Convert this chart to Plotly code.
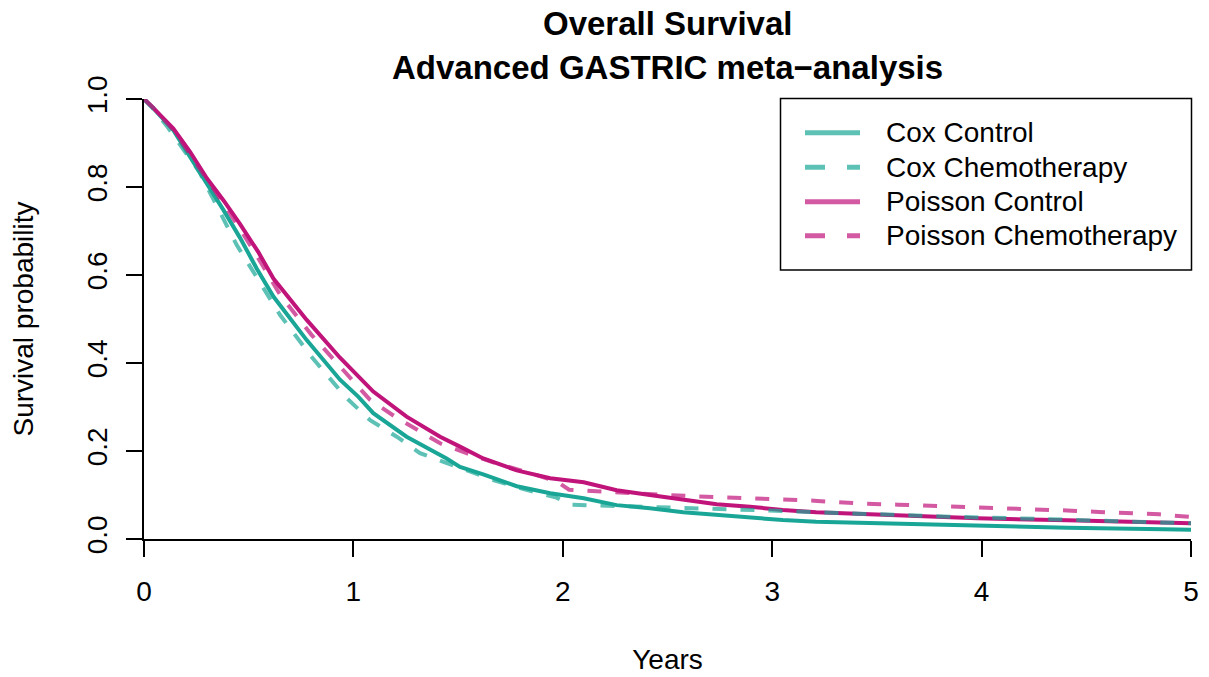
import plotly.graph_objects as go

# ---- data ----
cox_ctrl_t = [0, 0.044, 0.14, 0.22, 0.30, 0.379, 0.458, 0.538, 0.618, 0.777, 0.936, 1.024, 1.095,
              1.254, 1.445, 1.509, 1.62, 1.78, 1.94, 2.10, 2.257, 2.416, 2.575, 2.735, 2.894,
              3.05, 3.21, 3.37, 3.83, 3.97, 4.41, 4.87, 5.0]
cox_ctrl_s = [1.0, 0.979, 0.929, 0.869, 0.805, 0.748, 0.685, 0.615, 0.551, 0.452, 0.362, 0.323, 0.286,
              0.2325, 0.183, 0.164, 0.147, 0.12, 0.104, 0.0925, 0.077, 0.070, 0.0607, 0.0545, 0.049,
              0.043, 0.039, 0.037, 0.032, 0.0295, 0.0258, 0.022, 0.021]

cox_chemo_t = [0, 0.044, 0.107, 0.265, 0.443, 0.506, 0.65, 0.80, 0.968, 1.08, 1.207, 1.318, 1.54,
               1.668, 1.80, 1.97, 2.04, 2.23, 2.5, 2.64, 2.78, 2.93, 3.07, 3.2, 3.45, 3.85, 4.28,
               4.72, 5.0]
cox_chemo_s = [1.0, 0.978, 0.94, 0.834, 0.668, 0.619, 0.509, 0.414, 0.32, 0.27, 0.2325, 0.195, 0.155,
               0.134, 0.115, 0.094, 0.078, 0.0757, 0.071, 0.0698, 0.069, 0.066, 0.0636, 0.061, 0.0568,
               0.0507, 0.0455, 0.0386, 0.0356]

poi_ctrl_t = [0, 0.044, 0.14, 0.22, 0.30, 0.379, 0.458, 0.546, 0.618, 0.777, 0.936, 1.024, 1.095,
              1.254, 1.414, 1.509, 1.62, 1.78, 1.94, 2.10, 2.257, 2.416, 2.575, 2.735, 2.894, 3.05,
              3.21, 3.37, 3.61, 3.98, 4.41, 4.72, 5.0]
poi_ctrl_s = [1.0, 0.98, 0.933, 0.88, 0.82, 0.77, 0.716, 0.652, 0.592, 0.498, 0.412, 0.369, 0.335,
              0.278, 0.2325, 0.21, 0.183, 0.156, 0.138, 0.129, 0.111, 0.10, 0.0886, 0.0792, 0.0734, 0.066,
              0.0607, 0.058, 0.0545, 0.047, 0.0424, 0.0394, 0.036]

poi_chemo_t = [0, 0.044, 0.14, 0.32, 0.395, 0.522, 0.65, 0.80, 0.968, 1.08, 1.199, 1.318, 1.414, 1.54,
               1.668, 1.80, 1.97, 2.03, 2.23, 2.5, 2.64, 2.78, 2.93, 3.07, 3.2, 3.34, 3.44, 3.6, 3.75,
               4.0, 4.15, 4.29, 4.43, 4.56, 4.7, 4.85, 5.0]
poi_chemo_s = [1.0, 0.98, 0.93, 0.807, 0.752, 0.657, 0.555, 0.464, 0.377, 0.316, 0.278, 0.244, 0.2175, 0.195,
               0.174, 0.156, 0.131, 0.112, 0.106, 0.10, 0.097, 0.095, 0.0925, 0.09, 0.087, 0.083, 0.080, 0.078, 0.0757,
               0.0727, 0.0698, 0.0667, 0.0644, 0.0614, 0.059, 0.056, 0.050]

x_ticks = [0, 1, 2, 3, 4, 5]
y_ticks = [0.0, 0.2, 0.4, 0.6, 0.8, 1.0]
y_tick_text = ["0.0", "0.2", "0.4", "0.6", "0.8", "1.0"]

labels = ["Cox Control", "Cox Chemotherapy", "Poisson Control", "Poisson Chemotherapy"]
title_lines = ["Overall Survival", "Advanced GASTRIC meta\u2212analysis"]

TEAL = "rgb(26,166,150)"
TEAL_A = "rgba(26,166,150,0.7)"
MAG = "rgb(192,20,122)"
MAG_A = "rgba(192,20,122,0.7)"
DASH = "14px,14px"
FONT = "Liberation Sans, Arial, Helvetica, sans-serif"
FS = 28

W, H = 1209, 677
ML, MR, MT, MB = 144, 18, 99, 138
PW, PH = W - ML - MR, H - MT - MB


def px2x(px):
    return (px - ML) / PW


def px2y(py):
    return (H - MB - py) / PH


fig = go.Figure()
fig.add_trace(go.Scatter(x=cox_ctrl_t, y=cox_ctrl_s, mode="lines", name=labels[0], showlegend=False,
                         line=dict(color=TEAL, width=4)))
fig.add_trace(go.Scatter(x=poi_ctrl_t, y=poi_ctrl_s, mode="lines", name=labels[2], showlegend=False,
                         line=dict(color=MAG, width=4)))
fig.add_trace(go.Scatter(x=cox_chemo_t, y=cox_chemo_s, mode="lines", name=labels[1], showlegend=False,
                         line=dict(color=TEAL_A, width=4, dash=DASH)))
fig.add_trace(go.Scatter(x=poi_chemo_t, y=poi_chemo_s, mode="lines", name=labels[3], showlegend=False,
                         line=dict(color=MAG_A, width=4, dash=DASH)))

# ---- legend box (R style) ----
shapes = [dict(type="rect", xref="paper", yref="paper",
               x0=px2x(780.5), x1=px2x(1191.5), y0=px2y(270), y1=px2y(98.5),
               line=dict(color="black", width=1.5), fillcolor="white", layer="above")]
annotations = []
row_y = [132.7, 167.3, 201.7, 235.7]
leg_styles = [(TEAL_A, "solid"), (TEAL_A, "20px,22px,20px,22px"),
              (MAG_A, "solid"), (MAG_A, "20px,22px,20px,22px")]
for lab, (c, d), ry in zip(labels, leg_styles, row_y):
    shapes.append(dict(type="line", xref="paper", yref="paper",
                       x0=px2x(805), x1=px2x(860), y0=px2y(ry), y1=px2y(ry),
                       line=dict(color=c, width=5, dash=d), layer="above"))
    annotations.append(dict(text=lab, xref="paper", yref="paper", x=px2x(884), y=px2y(ry),
                            xanchor="left", yanchor="middle", showarrow=False,
                            font=dict(family=FONT, size=FS, color="black")))

# ---- title (two lines) ----
for txt, cy in zip(title_lines, [23, 68]):
    annotations.append(dict(text="<b>" + txt + "</b>", xref="paper", yref="paper",
                            x=0.5, y=px2y(cy), xanchor="center", yanchor="middle",
                            showarrow=False, font=dict(family=FONT, size=33, color="black")))

fig.update_layout(
    width=W, height=H,
    paper_bgcolor="white", plot_bgcolor="white",
    margin=dict(l=ML, r=MR, t=MT, b=MB, autoexpand=False),
    font=dict(family=FONT, size=FS, color="black"),
    showlegend=False,
    shapes=shapes,
    annotations=annotations,
)
fig.update_xaxes(range=[0, 5], tickvals=x_ticks, ticktext=[str(v) for v in x_ticks],
                 showgrid=False, zeroline=False, showline=True, linecolor="black", linewidth=2,
                 ticks="outside", ticklen=16, tickwidth=2, tickcolor="black",
                 ticklabelstandoff=10, automargin=False,
                 title=dict(text="Years", standoff=44, font=dict(size=FS)))
fig.update_yaxes(range=[0, 1], tickvals=y_ticks, ticktext=y_tick_text,
                 showgrid=False, zeroline=False, showline=True, linecolor="black", linewidth=2,
                 ticks="outside", ticklen=16, tickwidth=2, tickcolor="black",
                 tickangle=-90, ticklabelstandoff=8, automargin=False,
                 title=dict(text="Survival probability", standoff=40, font=dict(size=FS)))

fig.write_html("out.html", config={"displayModeBar": False},
               post_script="document.body.style.margin='0';document.body.style.padding='0';")
